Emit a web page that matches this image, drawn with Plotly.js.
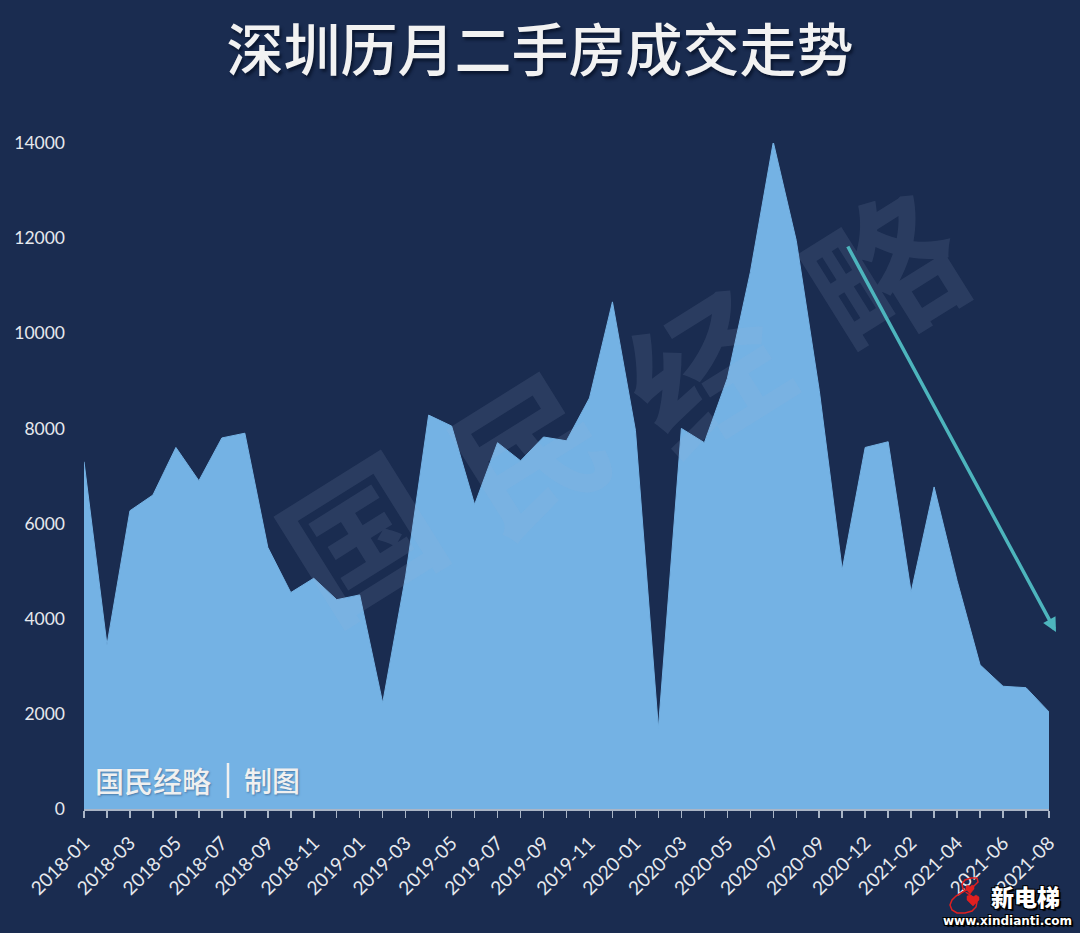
<!DOCTYPE html>
<html>
<head>
<meta charset="utf-8">
<script src="https://cdn.plot.ly/plotly-3.0.0.min.js"></script>
<style>
html,body{margin:0;padding:0;background:#1a2c50;width:1080px;height:933px;overflow:hidden}
#chart{position:absolute;left:0;top:0}
</style>
</head>
<body>
<div id="chart"></div>
<script>
var chartTitle = '深圳历月二手房成交走势';
var months = ['2018-01','2018-02','2018-03','2018-04','2018-05','2018-06','2018-07','2018-08','2018-09','2018-10','2018-11','2018-12',
'2019-01','2019-02','2019-03','2019-04','2019-05','2019-06','2019-07','2019-08','2019-09','2019-10','2019-11','2019-12',
'2020-01','2020-02','2020-03','2020-04','2020-05','2020-06','2020-07','2020-08','2020-09','2020-10','2020-12',
'2021-01','2021-02','2021-03','2021-04','2021-05','2021-06','2021-07','2021-08'];
var deals = [7300,3450,6270,6600,7600,6900,7800,7900,5500,4550,4850,4400,
4500,2230,4900,8280,8050,6400,7700,7320,7820,7740,8640,10660,
7960,1700,8000,7700,9050,11280,14020,11950,8800,5030,7600,
7720,4560,6770,4800,3030,2580,2550,2040];
var xLabels = months.map(function(m,i){return i%2===0?m:'';});
var yTicks = [0,2000,4000,6000,8000,10000,12000,14000];

var cjk='"Noto Sans CJK SC"', latin='Lato', tickCol='#e6e9ee';
var px=function(x){return (x-84)/965;}, py=function(y){return (809-y)/666;};
var outline='1px 1px 0 #000,-1px -1px 0 #000,1px -1px 0 #000,-1px 1px 0 #000,2px 2px 1px #000';
function note(x,y,text,font){
  return {xref:'paper',yref:'paper',x:px(x),y:py(y),xanchor:'center',yanchor:'middle',text:text,showarrow:false,font:font};
}
function mark(x,y,ch,angle){
  return {xref:'paper',yref:'paper',x:px(x),y:py(y),xanchor:'center',yanchor:'middle',text:ch,showarrow:false,textangle:angle,
    font:{family:cjk,size:150,weight:700,color:'rgba(165,178,210,0.12)'}};
}
// logo decoration, traced in picture pixels
function logoPath(pts,close){
  var s='M '+px(pts[0][0])+' '+py(pts[0][1]);
  for(var i=1;i<pts.length;i++) s+=' L '+px(pts[i][0])+' '+py(pts[i][1]);
  return s+(close?' Z':'');
}
var eightOutline=[[977,878],[971,878],[965,880],[962,884],[963,889],[967,893],[973,897],[977,902],[976,907],[972,911],[965,913],[957,913],[952,910],[950,905],[952,900],[956,896],[961,893],[968,889],[974,886],[978,882],[977,878]];
var heartA=[[970,894],[966,889],[966,886],[968,885],[970,887],[972,885],[974,886],[974,889]];
var heartB=[[973,906],[967,900],[967,896],[970,895],[973,897],[976,895],[979,897],[979,900]];

var trace = {
  type:'scatter', mode:'lines', x:months, y:deals,
  fill:'tozeroy', fillcolor:'#74b2e4',
  line:{color:'#74b2e4',width:1}, hoverinfo:'x+y'
};
var layout = {
  width:1080, height:933, autosize:false,
  paper_bgcolor:'#1a2c50', plot_bgcolor:'#1a2c50',
  margin:{l:84,r:31,t:143,b:124},
  showlegend:false,
  title:{text:chartTitle,x:0.5,xanchor:'center',y:0.945,yanchor:'middle',
    font:{family:cjk,size:57,weight:500,color:'#f2f2f2',shadow:'2px 3px 3px #0b1730'}},
  xaxis:{type:'category',categoryorder:'array',categoryarray:months,range:[0,42],
    tickmode:'array',tickvals:months,ticktext:xLabels,tickangle:-45,
    showgrid:false,zeroline:false,showline:true,linecolor:'#aab5c6',linewidth:1.5,
    ticks:'outside',ticklen:7,tickcolor:'#aab5c6',tickwidth:1.5,
    ticklabelstandoff:7,
    tickfont:{family:latin,size:19,color:tickCol}},
  yaxis:{range:[0,14000],tickmode:'array',tickvals:yTicks,ticktext:yTicks.map(String),
    showgrid:false,zeroline:false,showline:false,ticks:'',ticklabelstandoff:18,
    tickfont:{family:latin,size:17.5,color:tickCol}},
  shapes:[
    {type:'line',xref:'paper',yref:'paper',x0:px(228),x1:px(228),y0:py(798),y1:py(763),line:{color:'#f0f0f0',width:2.5}},
    {type:'path',xref:'paper',yref:'paper',path:logoPath(eightOutline,false),line:{color:'#e02020',width:1.5}},
    {type:'path',xref:'paper',yref:'paper',path:logoPath(heartA,true),fillcolor:'#e02020',line:{color:'#e02020',width:0.5}},
    {type:'path',xref:'paper',yref:'paper',path:logoPath(heartB,true),fillcolor:'#e02020',line:{color:'#e02020',width:0.5}}
  ],
  annotations:[
    mark(357,530,'国',-32), mark(525,445,'民',-32), mark(702,365,'经',-32), mark(880,265,'略',-32),
    note(153,780,'国民经略',{family:cjk,size:29,weight:500,color:'#f0f0f0',shadow:'1px 1px 2px #4a7aa8'}),
    note(272,780,'制图',{family:cjk,size:28,weight:500,color:'#f0f0f0',shadow:'1px 1px 2px #4a7aa8'}),
    {xref:'paper',yref:'paper',axref:'paper',ayref:'paper',
      x:px(1056),y:py(632),ax:px(847),ay:py(245),
      text:'',showarrow:true,arrowhead:2,arrowsize:0.8,arrowwidth:3.5,arrowcolor:'#4db5bd'},
    note(1025,896,'新电梯',{family:cjk,size:23,weight:900,color:'#ffffff',shadow:outline}),
    note(1007,921,'<b>www.xindianti.com</b>',{family:'"DejaVu Sans"',size:12,color:'#ffffff',shadow:outline})
  ]
};
Plotly.newPlot('chart',[trace],layout,{displayModeBar:false,staticPlot:true});
</script>
</body>
</html>
